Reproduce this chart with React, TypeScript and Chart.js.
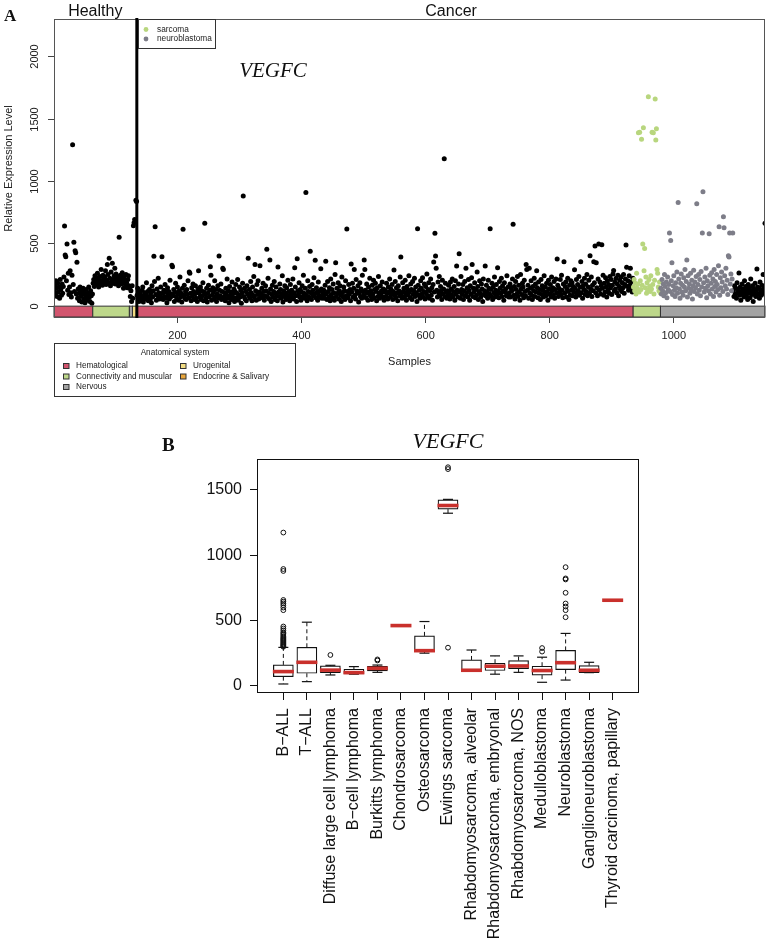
import React, { useEffect, useRef } from "react";
import { Chart, registerables } from "chart.js";
Chart.register(...registerables);

const SANS = "'Liberation Sans', Arial, Helvetica, sans-serif";
const SERIF = "'Liberation Serif', 'Times New Roman', serif";

// ---------------- Panel A data (relative expression per sample) ----------------
const healthyHematological = [
  120, 165, 95, 200, 140, 75, 180, 110, 150, 60, 210, 130, 85, 175, 100, 155, 230, 639, 406, 393,
  200, 494, 125, 260, 90, 150, 281, 105, 70, 245, 1290, 170, 508, 115, 440, 425, 95, 348, 60, 135,
  100, 40, 150, 75, 120, 30, 90, 140, 55, 110, 25, 85, 130, 65, 45, 100, 150, 70, 35, 120, 80, 20, 95,
];
const healthyConnective = [
  180, 210, 155, 240, 195, 170, 225, 260, 185, 150, 205, 235, 175, 290, 200, 165, 245, 215, 190, 230,
  280, 170, 205, 330, 250, 185, 380, 220, 160, 270, 195, 340, 210, 180, 240, 300, 175, 255, 215, 190,
  230, 160, 548, 200, 245, 175, 220, 265, 190, 140, 235, 205, 170, 250, 185, 145, 210, 240, 160,
];
const healthyNervous = [140, 75, 120, 35, 160];
const healthyUrogenital = [60, 640, 665, 690, 675, 845, 835];

const cancerHematological1 = [
  85, 140, 60, 35, 110, 95, 45, 70, 125, 150, 30, 80, 105, 55, 90, 185, 65, 115, 40, 75,
  130, 50, 100, 25, 160, 70, 120, 396, 194, 632, 90, 45, 135, 80, 220, 105, 55, 95, 150, 65,
  393, 100, 50, 125, 75, 170, 110, 60, 25, 145, 85, 115, 55, 205, 70, 95, 325, 313, 80, 130,
  35, 110, 180, 75, 55, 150, 95, 45, 120, 230, 70, 100, 30, 140, 612, 85, 165, 60, 115, 50,
  130, 90, 200, 65, 270, 260, 100, 40, 145, 75, 175, 115, 50, 95, 160, 60, 105, 35, 135, 280,
];
const cancerHematological2 = [
  105, 70, 150, 50, 120, 80, 185, 40, 110, 660, 90, 60, 140, 30, 100, 165, 70, 125, 313, 245,
  45, 85, 145, 110, 55, 200, 75, 130, 35, 95, 160, 65, 398, 125, 80, 175, 50, 115, 300, 290,
  70, 105, 40, 140, 90, 215, 60, 120, 25, 155, 80, 110, 50, 190, 95, 65, 135, 35, 115, 170,
  65, 100, 210, 45, 85, 150, 70, 125, 20, 105, 180, 879, 75, 140, 55, 115, 40, 160, 95, 380,
  80, 130, 60, 195, 105, 40, 150, 85, 235, 70, 330, 120, 45, 170, 90, 200, 55, 110, 320, 75,
];
const cancerHematological3 = [
  95, 140, 65, 180, 115, 45, 80, 160, 120, 452, 70, 220, 105, 55, 366, 135, 35, 90, 165, 70,
  115, 195, 50, 100, 150, 80, 40, 310, 110, 75, 175, 130, 60, 95, 240, 30, 120, 75, 160, 105,
  50, 145, 85, 205, 65, 115, 40, 170, 95, 125, 70, 215, 55, 105, 305, 150, 80, 35, 377, 120,
  90, 185, 70, 130, 45, 110, 160, 75, 245, 100, 60, 140, 908, 85, 40, 200, 115, 70, 155, 436,
  105, 50, 170, 125, 80, 225, 95, 364, 65, 145, 110, 45, 190, 85, 120, 70, 297, 135, 60, 105,
];
const cancerHematological4 = [
  80, 125, 60, 165, 356, 95, 50, 195, 115, 70, 145, 40, 215, 90, 130, 65, 175, 105, 45, 250,
  345, 75, 140, 100, 185, 55, 120, 160, 85, 35, 230, 105, 70, 150, 120, 50, 200, 80, 615, 115,
  65, 170, 95, 130, 40, 334, 110, 180, 70, 140, 290, 85, 55, 210, 120, 100, 160, 30, 105, 185,
  75, 135, 60, 245, 115, 85, 366, 290, 125, 65, 175, 100, 45, 150, 110, 220, 80, 120, 50, 165,
  95, 205, 65, 130, 180, 115, 40, 145, 75, 235, 105, 60, 160, 90, 120, 190, 70, 135, 45, 110,
];
const cancerHematological5 = [
  125, 75, 180, 100, 55, 150, 110, 215, 70, 135, 90, 170, 50, 115, 286, 85, 195, 65, 145, 105,
  40, 160, 120, 80, 230, 390, 95, 60, 185, 115, 140, 70, 205, 100, 45, 155, 125, 85, 240, 110,
  65, 175, 130, 50, 195, 90, 120, 220, 75, 150, 105, 35, 617, 165, 85, 125, 60, 200, 140, 95,
  225, 70, 115, 175, 55, 155, 100, 255, 80, 130, 185, 60, 120, 215, 85, 145, 45, 170, 350, 110,
  580, 398, 300, 125, 70, 190, 105, 235, 80, 155, 120, 50, 205, 95, 135, 1178, 75, 180, 110, 60,
];
const cancerHematological6 = [
  120, 80, 165, 105, 55, 190, 135, 85, 215, 70, 115, 155, 45, 200, 95, 318, 125, 70, 175, 417,
  110, 60, 235, 130, 90, 170, 50, 120, 195, 80, 300, 105, 145, 70, 210, 125, 45, 160, 95, 225,
  330, 75, 140, 110, 185, 65, 130, 85, 270, 155, 50, 115, 200, 100, 70, 175, 135, 35, 215, 90,
  120, 318, 80, 165, 110, 60, 205, 140, 95, 617, 130, 75, 180, 50, 150, 105, 230, 70, 125, 170,
  85, 305, 115, 65, 195, 140, 100, 220, 75, 160, 120, 45, 185, 110, 135, 80, 240, 95, 150, 70,
];
const cancerHematological7 = [
  105, 175, 70, 140, 120, 215, 652, 85, 155, 55, 195, 130, 95, 235, 75, 165, 110, 45, 250, 135,
  90, 180, 150, 65, 205, 115, 80, 330, 290, 125, 165, 60, 300, 100, 140, 200, 85, 50, 155, 120,
  220, 75, 175, 110, 280, 145, 65, 190, 100, 130, 50, 210, 90, 160, 125, 70, 240, 105, 150, 80,
  180, 115, 45, 205, 135, 95, 170, 70, 230, 120, 145, 85, 195, 60, 130, 215, 105, 374, 165, 75,
  140, 110, 210, 90, 245, 125, 65, 175, 353, 100, 155, 190, 70, 135, 220, 115, 50, 165, 85, 200,
];
const cancerHematological8 = [
  125, 185, 80, 155, 110, 288, 140, 70, 210, 95, 170, 120, 235, 85, 150, 353, 105, 195, 60, 160,
  130, 220, 90, 175, 115, 250, 80, 150, 205, 100, 401, 135, 230, 75, 165, 120, 353, 185, 478, 105,
  345, 145, 80, 215, 494, 125, 190, 95, 160, 488, 140, 245, 85, 180, 110, 225, 150, 70, 200, 125,
  170, 100, 235, 145, 210, 90, 165, 255, 282, 120, 190, 135, 220, 105, 175, 245, 80, 155, 205, 130,
  230, 115, 185, 145, 250, 100, 170, 215, 486, 308, 155, 200, 125, 240, 165, 300, 140, 190, 110, 220,
];
const sarcoma = [
  150, 210, 120, 180, 95, 260, 140, 175, 1385, 110, 1390, 200, 130, 1333, 165, 494, 1426, 280, 459, 145,
  230, 100, 185, 125, 1675, 210, 155, 115, 240, 135, 1390, 170, 1385, 95, 205, 1656, 1328, 1418, 290, 260,
  150, 120, 190, 105,
];
const neuroblastoma = [
  140, 95, 210, 120, 175, 80, 250, 155, 105, 190, 65, 230, 130, 170, 582, 115, 523, 200, 345, 90,
  160, 240, 125, 75, 185, 145, 270, 100, 828, 215, 135, 60, 180, 255, 110, 165, 85, 225, 150, 290,
  120, 195, 366, 70, 240, 140, 175, 100, 260, 130, 205, 55, 160, 285, 115, 190, 145, 235, 817, 95,
  170, 250, 125, 210, 80, 275, 150, 582, 914, 185, 110, 230, 140, 300, 65, 200, 160, 120, 577, 245,
  95, 180, 265, 135, 215, 75, 290, 155, 195, 110, 250, 170, 130, 320, 633, 85, 225, 145, 270, 190,
  115, 713, 625, 240, 160, 300, 135, 205, 90, 400, 390, 582, 175, 255, 120, 215, 582,
];
const cancerNervousOther = [
  120, 75, 160, 95, 140, 60, 185, 105, 130, 262, 85, 150, 45, 115, 175, 90, 135, 70, 200, 110,
  155, 80, 125, 50, 170, 100, 145, 65, 215, 120, 90, 160, 35, 135, 105, 180, 75, 125, 294, 150,
  95, 140, 60, 190, 115, 85, 165, 130, 250, 100, 145, 660,
];
const cancerHematological = [
  ...cancerHematological1, ...cancerHematological2, ...cancerHematological3, ...cancerHematological4,
  ...cancerHematological5, ...cancerHematological6, ...cancerHematological7, ...cancerHematological8,
];

const xTicksA = [200, 400, 600, 800, 1000];
const yTicksA = [0, 500, 1000, 1500, 2000];

const systemNames = ["Hematological", "Connectivity and muscular", "Nervous", "Urogenital", "Endocrine & Salivary"];
const systemColors = ["#D2556E", "#BDD78A", "#A3A3A3", "#F1DC83", "#E8A63C"];

// ---------------- Panel B data (box plot statistics) ----------------
const boxCategories = [
  "B\u2212ALL", "T\u2212ALL", "Diffuse large cell lymphoma", "B\u2212cell lymphoma", "Burkitts lymphoma",
  "Chondrosarcoma", "Osteosarcoma", "Ewings sarcoma", "Rhabdomyosarcoma, alveolar",
  "Rhabdomyosarcoma, embryonal", "Rhabdomyosarcoma, NOS", "Medulloblastoma", "Neuroblastoma",
  "Ganglioneuroblastoma", "Thyroid carcinoma, papillary",
];
const boxLow = [15, 33, 84, 90, 104, null, 251, 1322, 120, 90, 104, 28, 45, 102, null];
const boxQ1 = [71, 97, 102, 92, 115, null, 262, 1353, 120, 118, 133, 83, 125, 102, null];
const boxMedian = [110, 181, 121, 102, 135, 462, 270, 1381, 120, 151, 153, 118, 178, 120, 656];
const boxQ3 = [161, 296, 153, 128, 150, null, 383, 1424, 199, 174, 194, 151, 272, 156, null];
const boxHigh = [295, 488, 158, 148, 160, null, 493, 1428, 275, 230, 230, 220, 402, 181, null];
const boxOutliers = [
  [300, 305, 312, 318, 325, 332, 340, 348, 355, 362, 370, 380, 390, 400, 410, 425, 440, 455, 580, 600, 618, 632, 645, 658, 880, 895, 1174],
  [], [237], [], [195, 203], [], [], [293, 1660, 1674], [], [], [], [263, 290],
  [526, 580, 608, 631, 713, 815, 823, 909], [], [],
];
const yTicksB = [0, 500, 1000, 1500];

// ---------------- build panel A series ----------------
type Grp = { vals: number[]; sys: number; kind: "black" | "sarcoma" | "neuro"; healthy: boolean };
const groupsA: Grp[] = [
  { vals: healthyHematological, sys: 0, kind: "black", healthy: true },
  { vals: healthyConnective, sys: 1, kind: "black", healthy: true },
  { vals: healthyNervous, sys: 2, kind: "black", healthy: true },
  { vals: healthyUrogenital, sys: 3, kind: "black", healthy: true },
  { vals: cancerHematological, sys: 0, kind: "black", healthy: false },
  { vals: sarcoma, sys: 1, kind: "sarcoma", healthy: false },
  { vals: neuroblastoma, sys: 2, kind: "neuro", healthy: false },
  { vals: cancerNervousOther, sys: 2, kind: "black", healthy: false },
];
const blackPts: { x: number; y: number }[] = [];
const sarcomaPts: { x: number; y: number }[] = [];
const neuroPts: { x: number; y: number }[] = [];
const segments: { start: number; end: number; sys: number }[] = [];
let healthyEnd = 0;
let idx = 1;
for (const g of groupsA) {
  const start = idx;
  for (const v of g.vals) {
    const p = { x: idx, y: v };
    if (g.kind === "sarcoma") sarcomaPts.push(p);
    else if (g.kind === "neuro") neuroPts.push(p);
    else blackPts.push(p);
    idx++;
  }
  const end = idx - 1;
  const last = segments[segments.length - 1];
  if (last && last.sys === g.sys) last.end = end;
  else segments.push({ start, end, sys: g.sys });
  if (g.healthy) healthyEnd = end;
}
const totalSamples = idx - 1;

export default function App() {
  const refA = useRef<HTMLCanvasElement>(null);
  const refB = useRef<HTMLCanvasElement>(null);

  useEffect(() => {
    const pluginA = {
      id: "panelA",
      afterDatasetsDraw(chart: any) {
        const { ctx, chartArea: ca, scales } = chart;
        const x = scales.x;
        const y = scales.y;
        ctx.save();
        // anatomical strip
        const yT = y.getPixelForValue(-3);
        const yB = y.getPixelForValue(-90);
        for (const s of segments) {
          const x0 = Math.max(ca.left, x.getPixelForValue(s.start - 0.5));
          const x1 = Math.min(ca.right, x.getPixelForValue(s.end + 0.5));
          ctx.fillStyle = systemColors[s.sys];
          ctx.fillRect(x0, yT, x1 - x0, yB - yT);
          ctx.strokeStyle = "#333";
          ctx.lineWidth = 1;
          ctx.strokeRect(x0, yT, x1 - x0, yB - yT);
        }
        // frame
        ctx.strokeStyle = "#555";
        ctx.lineWidth = 1;
        ctx.strokeRect(ca.left + 0.5, ca.top + 0.5, ca.right - ca.left - 1, ca.bottom - ca.top - 1);
        // healthy / cancer divider
        const xd = x.getPixelForValue(healthyEnd + 0.5);
        ctx.strokeStyle = "#000";
        ctx.lineWidth = 3;
        ctx.beginPath();
        ctx.moveTo(xd, ca.top - 1);
        ctx.lineTo(xd, ca.bottom);
        ctx.stroke();
        // y ticks + rotated labels
        ctx.lineWidth = 1;
        ctx.strokeStyle = "#444";
        ctx.fillStyle = "#222";
        ctx.font = `11px ${SANS}`;
        for (const v of yTicksA) {
          const py = Math.round(y.getPixelForValue(v)) + 0.5;
          ctx.beginPath();
          ctx.moveTo(ca.left - 6, py);
          ctx.lineTo(ca.left, py);
          ctx.stroke();
          ctx.save();
          ctx.translate(35, py);
          ctx.rotate(-Math.PI / 2);
          ctx.textAlign = "center";
          ctx.textBaseline = "middle";
          ctx.fillText(String(v), 0, 0);
          ctx.restore();
        }
        // y title
        ctx.save();
        ctx.translate(9, (ca.top + ca.bottom) / 2);
        ctx.rotate(-Math.PI / 2);
        ctx.textAlign = "center";
        ctx.textBaseline = "middle";
        ctx.fillText("Relative Expression Level", 0, 0);
        ctx.restore();
        // x title
        ctx.textAlign = "center";
        ctx.textBaseline = "alphabetic";
        ctx.fillText("Samples", (ca.left + ca.right) / 2, 365);
        // group titles
        ctx.font = `16px ${SANS}`;
        ctx.fillStyle = "#111";
        ctx.fillText("Healthy", x.getPixelForValue((1 + healthyEnd) / 2), 16);
        ctx.fillText("Cancer", x.getPixelForValue((healthyEnd + 1 + totalSamples) / 2), 16);
        // gene title
        ctx.font = `italic 21px ${SERIF}`;
        ctx.fillText("VEGFC", 273, 77);
        // panel letter
        ctx.font = `bold 17px ${SERIF}`;
        ctx.textAlign = "left";
        ctx.fillText("A", 4, 21);
        // top-left legend
        ctx.fillStyle = "#fff";
        ctx.fillRect(139, 19, 76, 30);
        ctx.strokeStyle = "#333";
        ctx.lineWidth = 1;
        ctx.strokeRect(138.5, 19.5, 77, 29);
        const leg = [["sarcoma", "#B8D67E"], ["neuroblastoma", "#7D7D88"]];
        ctx.font = `8.3px ${SANS}`;
        ctx.textBaseline = "middle";
        leg.forEach(([t, c], i) => {
          const ly = 29.5 + i * 9.5;
          ctx.fillStyle = c;
          ctx.beginPath();
          ctx.arc(146, ly, 2.4, 0, Math.PI * 2);
          ctx.fill();
          ctx.fillStyle = "#222";
          ctx.fillText(t, 157, ly);
        });
        // bottom legend
        ctx.fillStyle = "#fff";
        ctx.fillRect(55, 344, 240, 52);
        ctx.strokeStyle = "#333";
        ctx.strokeRect(54.5, 343.5, 241, 53);
        ctx.fillStyle = "#222";
        ctx.font = `8.2px ${SANS}`;
        ctx.textAlign = "center";
        ctx.fillText("Anatomical system", 175, 352.5);
        ctx.textAlign = "left";
        const pos = [
          [63, 366], [63, 376.5], [63, 387], [180, 366], [180, 376.5],
        ];
        systemNames.forEach((n, i) => {
          const [lx, ly] = pos[i];
          ctx.fillStyle = systemColors[i];
          ctx.fillRect(lx, ly - 2.5, 6, 5);
          ctx.strokeStyle = "#333";
          ctx.strokeRect(lx + 0.5, ly - 2.5, 5.5, 5);
          ctx.fillStyle = "#222";
          ctx.fillText(n, lx + 13, ly);
        });
        ctx.restore();
      },
    };

    const chartA = new Chart(refA.current as HTMLCanvasElement, {
      type: "scatter",
      data: {
        datasets: [
          { label: "other", data: blackPts, pointRadius: 2.5, pointBackgroundColor: "#000", pointBorderWidth: 0, order: 3, clip: 0 } as any,
          { label: "sarcoma", data: sarcomaPts, pointRadius: 2.5, pointBackgroundColor: "#B8D67E", pointBorderWidth: 0, order: 2, clip: 0 } as any,
          { label: "neuroblastoma", data: neuroPts, pointRadius: 2.5, pointBackgroundColor: "#7D7D88", pointBorderWidth: 0, order: 1, clip: 0 } as any,
        ],
      },
      options: {
        responsive: false,
        animation: false,
        devicePixelRatio: 1,
        layout: { padding: { left: 54, top: 19, right: 5, bottom: 0 } },
        plugins: { legend: { display: false }, tooltip: { enabled: false } },
        events: [],
        scales: {
          x: {
            type: "linear",
            min: 1,
            max: totalSamples,
            afterFit: (s: any) => { s.height = 92; },
            afterBuildTicks: (s: any) => { s.ticks = xTicksA.map((v) => ({ value: v })); },
            ticks: {
              font: { size: 11, family: SANS }, color: "#222", padding: 6, maxRotation: 0, autoSkip: false,
              callback: (v: any) => String(v),
            },
            grid: { display: true, drawOnChartArea: false, tickLength: 5, color: "#444" },
            border: { display: false },
          },
          y: { type: "linear", min: -98, max: 2297, display: false },
        },
      } as any,
      plugins: [pluginA],
    });

    // ---------------- Panel B ----------------
    const boxData: any[] = [];
    const whisker: any[] = [];
    const caps: any[] = [];
    const medians: any[] = [];
    const outliers: any[] = [];
    boxCategories.forEach((_, i) => {
      const cx = i + 1;
      medians.push({ x: cx, y: boxMedian[i] });
      if (boxQ1[i] !== null && boxQ3[i] !== null) {
        boxData.push({ x: cx, y: [boxQ1[i], boxQ3[i]] });
        whisker.push({ x: cx, y: boxQ3[i] }, { x: cx, y: boxHigh[i] }, { x: cx, y: null });
        whisker.push({ x: cx, y: boxQ1[i] }, { x: cx, y: boxLow[i] }, { x: cx, y: null });
        caps.push({ x: cx, y: boxLow[i] }, { x: cx, y: boxHigh[i] });
      }
      boxOutliers[i].forEach((v) => outliers.push({ x: cx, y: v }));
    });

    const pluginB = {
      id: "panelB",
      afterDraw(chart: any) {
        const { ctx, chartArea: ca } = chart;
        ctx.save();
        ctx.strokeStyle = "#111";
        ctx.lineWidth = 1;
        ctx.strokeRect(ca.left + 0.5, ca.top + 0.5, ca.right - ca.left - 1, ca.bottom - ca.top - 1);
        ctx.fillStyle = "#111";
        ctx.textAlign = "center";
        ctx.textBaseline = "alphabetic";
        ctx.font = `italic 22px ${SERIF}`;
        ctx.fillText("VEGFC", (ca.left + ca.right) / 2, 38);
        ctx.textAlign = "left";
        ctx.font = `bold 19px ${SERIF}`;
        ctx.fillText("B", 162, 41);
        ctx.restore();
      },
    };

    const chartB = new Chart(refB.current as HTMLCanvasElement, {
      type: "scatter",
      data: {
        datasets: [
          { type: "line", data: whisker, borderColor: "#111", borderWidth: 1, borderDash: [4, 3], pointRadius: 0, spanGaps: false, order: 6 } as any,
          { type: "bar", data: boxData, backgroundColor: "#fff", borderColor: "#111", borderWidth: 1.2, borderSkipped: false, barThickness: 20, order: 5 } as any,
          { data: caps, pointStyle: "line", pointRadius: 5, pointBorderColor: "#111", pointBorderWidth: 1.2, order: 4 } as any,
          { data: outliers, pointStyle: "circle", pointRadius: 2.4, pointBackgroundColor: "rgba(0,0,0,0)", pointBorderColor: "#111", pointBorderWidth: 1, order: 3 } as any,
          { data: medians, pointStyle: "line", pointRadius: 10.5, pointBorderColor: "#C9302C", pointBorderWidth: 3.6, order: 1 } as any,
        ],
      },
      options: {
        responsive: false,
        animation: false,
        devicePixelRatio: 1,
        layout: { padding: { left: 0, top: 49, right: 131, bottom: 0 } },
        plugins: { legend: { display: false }, tooltip: { enabled: false } },
        events: [],
        scales: {
          x: {
            type: "linear",
            min: -0.12,
            max: 16.12,
            offset: false,
            afterFit: (s: any) => { s.height = 259; },
            afterBuildTicks: (s: any) => { s.ticks = boxCategories.map((_, i) => ({ value: i + 1 })); },
            ticks: {
              autoSkip: false,
              minRotation: 90,
              maxRotation: 90,
              padding: 8,
              color: "#111",
              font: { size: 16, family: SANS },
              callback: (v: any) => boxCategories[Number(v) - 1] ?? "",
            },
            grid: { display: true, drawOnChartArea: false, tickLength: 7, color: "#111", offset: false },
            border: { display: false },
          },
          y: {
            type: "linear",
            min: -54,
            max: 1737,
            afterFit: (s: any) => { s.width = 257; },
            afterBuildTicks: (s: any) => { s.ticks = yTicksB.map((v) => ({ value: v })); },
            ticks: { color: "#111", font: { size: 16, family: SANS }, padding: 8, callback: (v: any) => String(v) },
            grid: { display: true, drawOnChartArea: false, tickLength: 7, color: "#111" },
            border: { display: false },
          },
        },
      } as any,
      plugins: [pluginB],
    });

    return () => {
      chartA.destroy();
      chartB.destroy();
    };
  }, []);

  return (
    <div style={{ position: "absolute", left: 0, top: 0, width: 770, height: 952, background: "#fff", overflow: "hidden" }}>
      <canvas ref={refA} width={770} height={410} style={{ position: "absolute", left: 0, top: 0 }} />
      <canvas ref={refB} width={770} height={542} style={{ position: "absolute", left: 0, top: 410 }} />
    </div>
  );
}
